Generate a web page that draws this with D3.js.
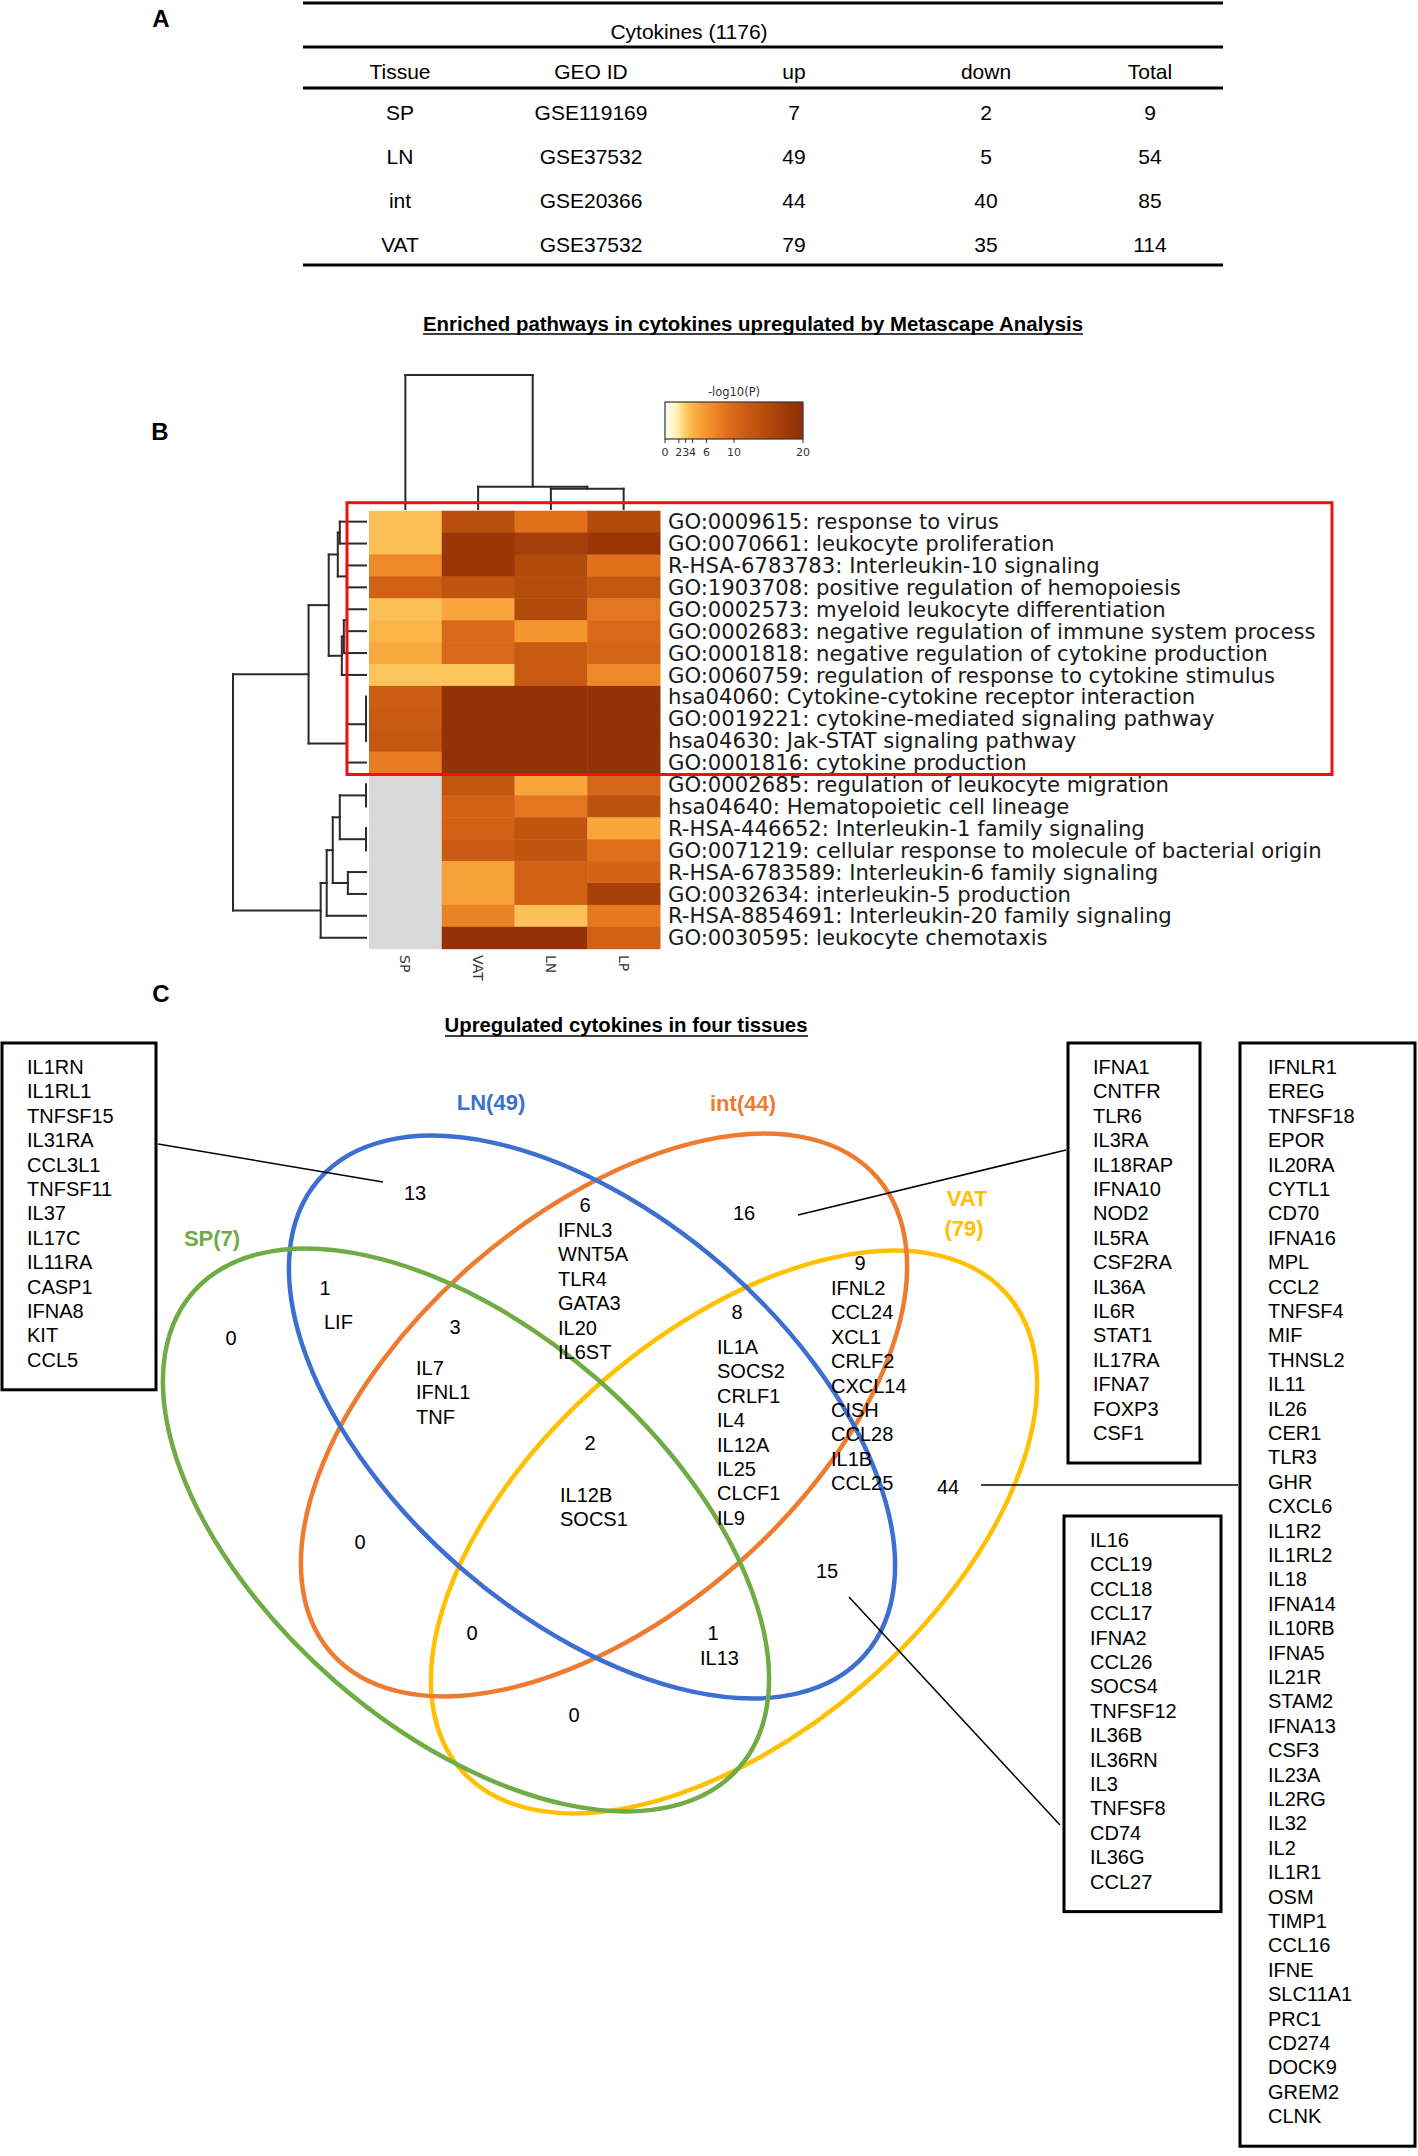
<!DOCTYPE html>
<html><head><meta charset="utf-8">
<script src="https://cdn.jsdelivr.net/npm/d3@7"></script>
<style>body{margin:0;background:#fff} svg{display:block}</style>
</head><body>
<script>
// ================= DATA =================
// Panel A table
const tableTitle = "Cytokines (1176)";
const tableHeader = ["Tissue", "GEO ID", "up", "down", "Total"];
const tissues = ["SP", "LN", "int", "VAT"];
const geoIds = ["GSE119169", "GSE37532", "GSE20366", "GSE37532"];
const upCounts = [7, 49, 44, 79];
const downCounts = [2, 5, 40, 35];
const totalCounts = [9, 54, 85, 114];

// Panel B heatmap (-log10 P)
const heatTitle = "Enriched pathways in cytokines upregulated by Metascape Analysis";
const terms = [
  "GO:0009615: response to virus",
  "GO:0070661: leukocyte proliferation",
  "R-HSA-6783783: Interleukin-10 signaling",
  "GO:1903708: positive regulation of hemopoiesis",
  "GO:0002573: myeloid leukocyte differentiation",
  "GO:0002683: negative regulation of immune system process",
  "GO:0001818: negative regulation of cytokine production",
  "GO:0060759: regulation of response to cytokine stimulus",
  "hsa04060: Cytokine-cytokine receptor interaction",
  "GO:0019221: cytokine-mediated signaling pathway",
  "hsa04630: Jak-STAT signaling pathway",
  "GO:0001816: cytokine production",
  "GO:0002685: regulation of leukocyte migration",
  "hsa04640: Hematopoietic cell lineage",
  "R-HSA-446652: Interleukin-1 family signaling",
  "GO:0071219: cellular response to molecule of bacterial origin",
  "R-HSA-6783589: Interleukin-6 family signaling",
  "GO:0032634: interleukin-5 production",
  "R-HSA-8854691: Interleukin-20 family signaling",
  "GO:0030595: leukocyte chemotaxis"
];
const heatCols = ["SP", "VAT", "LN", "LP"];
const spVals  = [3.5, 3.5, 7, 11, 3.5, 4, 4.8, 3.3, 11.5, 12, 12.5, 8, null, null, null, null, null, null, null, null];
const vatVals = [14, 18, 18, 13, 5, 10, 10, 3.3, 19.5, 19.5, 19.5, 19.5, 12.8, 11, 11, 11.8, 5.3, 5.3, 7.5, 19.5];
const lnVals  = [9, 16.8, 15, 14.5, 15, 6, 12, 12, 19.5, 19.5, 19.5, 19.5, 5, 8.5, 13, 13, 11, 11, 3.4, 19.5];
const lpVals  = [15, 18.5, 9, 12.5, 8.5, 10, 10.5, 7, 19.5, 19.5, 19.5, 19.5, 10.3, 13.5, 5, 9, 10.7, 16.5, 8.3, 11];
const legendTicks = [0, 2, 3, 4, 6, 10, 20];
const colorStopValues = [0, 1.5, 3, 4, 6, 9, 12, 15, 18, 20];
const colorStopColors = ["#fffdf4", "#fff3bd", "#fdcb65", "#fbb547", "#f49530", "#e0701c", "#c85a12", "#b24a0b", "#9c3608", "#8e3005"];
// linkage: [childA, childB, height]; leaves are rows 0..19, new clusters numbered from 20
const rowLinkage = [
  [0, 1, 26], [2, 3, 19], [20, 21, 28], [4, 5, 19], [23, 6, 22], [24, 7, 24], [22, 25, 37],
  [8, 9, 0], [27, 10, 0], [28, 11, 19], [26, 29, 57],
  [12, 13, 0], [14, 15, 0], [31, 32, 26], [16, 17, 18], [33, 34, 33], [35, 18, 39], [36, 19, 45],
  [30, 37, 132]
];
const colLinkage = [[2, 3, 20], [1, 4, 22], [0, 5, 132]];

// Panel C Venn
const vennTitle = "Upregulated cytokines in four tissues";
const setNames = ["SP", "LN", "int", "VAT"];
const setSizes = [7, 49, 44, 79];
const regionKeys = ["SP", "LN", "int", "VAT", "SP&LN", "SP&int", "SP&VAT", "LN&int", "LN&VAT", "int&VAT",
  "SP&LN&int", "SP&LN&VAT", "SP&int&VAT", "LN&int&VAT", "SP&LN&int&VAT"];
const regionCounts = [0, 13, 16, 44, 1, 0, 0, 6, 15, 9, 3, 1, 0, 8, 2];
const regionGenes = [[], [], [], [], ["LIF"], [], [],
  ["IFNL3", "WNT5A", "TLR4", "GATA3", "IL20", "IL6ST"], [],
  ["IFNL2", "CCL24", "XCL1", "CRLF2", "CXCL14", "CISH", "CCL28", "IL1B", "CCL25"],
  ["IL7", "IFNL1", "TNF"], ["IL13"], [],
  ["IL1A", "SOCS2", "CRLF1", "IL4", "IL12A", "IL25", "CLCF1", "IL9"],
  ["IL12B", "SOCS1"]];
const lnOnlyGenes = ["IL1RN", "IL1RL1", "TNFSF15", "IL31RA", "CCL3L1", "TNFSF11", "IL37", "IL17C", "IL11RA", "CASP1", "IFNA8", "KIT", "CCL5"];
const intOnlyGenes = ["IFNA1", "CNTFR", "TLR6", "IL3RA", "IL18RAP", "IFNA10", "NOD2", "IL5RA", "CSF2RA", "IL36A", "IL6R", "STAT1", "IL17RA", "IFNA7", "FOXP3", "CSF1"];
const vatOnlyGenes = ["IFNLR1", "EREG", "TNFSF18", "EPOR", "IL20RA", "CYTL1", "CD70", "IFNA16", "MPL", "CCL2", "TNFSF4", "MIF", "THNSL2", "IL11", "IL26", "CER1", "TLR3", "GHR", "CXCL6", "IL1R2", "IL1RL2", "IL18", "IFNA14", "IL10RB", "IFNA5", "IL21R", "STAM2", "IFNA13", "CSF3", "IL23A", "IL2RG", "IL32", "IL2", "IL1R1", "OSM", "TIMP1", "CCL16", "IFNE", "SLC11A1", "PRC1", "CD274", "DOCK9", "GREM2", "CLNK"];
const lnVatGenes = ["IL16", "CCL19", "CCL18", "CCL17", "IFNA2", "CCL26", "SOCS4", "TNFSF12", "IL36B", "IL36RN", "IL3", "TNFSF8", "CD74", "IL36G", "CCL27"];

// ================= LAYOUT / STYLE =================
const W = 1418, H = 2156;
const SANS = "'Liberation Sans', Arial, Helvetica, sans-serif";
const DJ = "'DejaVu Sans', Verdana, sans-serif";
const setColors = ["#6fac46", "#3d6fd1", "#ee7b30", "#ffc000"];

const svg = d3.select("body").append("svg").attr("width", W).attr("height", H).attr("viewBox", `0 0 ${W} ${H}`);
svg.append("rect").attr("width", W).attr("height", H).attr("fill", "#fff");

function txt(g, t, x, y, o = {}) {
  const e = g.append("text").attr("x", x).attr("y", y).attr("dy", o.dy || "0.35em")
    .attr("font-family", o.ff || SANS).attr("font-size", o.fs || 20)
    .attr("text-anchor", o.anchor || "middle").attr("fill", o.fill || "#000").text(t);
  if (o.bold) e.attr("font-weight", "bold");
  if (o.len) e.attr("textLength", o.len).attr("lengthAdjust", "spacingAndGlyphs");
  return e;
}

// ---------- Panel A ----------
const gA = svg.append("g");
txt(gA, "A", 161, 19, { fs: 24, bold: true });
const tableColX = [400, 591, 794, 986, 1150];
const tableRowY = d3.scaleOrdinal().domain(tissues).range([113, 157, 201, 245]);
const tableLines = [3, 47, 88, 265];
tableLines.forEach(y => gA.append("line").attr("x1", 303).attr("x2", 1223).attr("y1", y).attr("y2", y)
  .attr("stroke", "#000").attr("stroke-width", 3));
txt(gA, tableTitle, 689, 32, { fs: 21 });
tableHeader.forEach((h, i) => txt(gA, h, tableColX[i], 72, { fs: 21 }));
tissues.forEach((t, r) => {
  const vals = [t, geoIds[r], upCounts[r], downCounts[r], totalCounts[r]];
  vals.forEach((v, i) => txt(gA, String(v), tableColX[i], tableRowY(t), { fs: 21 }));
});

// ---------- Panel B ----------
const gB = svg.append("g");
txt(gB, heatTitle, 753, 324, { fs: 20, bold: true, len: 660 });
gB.append("line").attr("x1", 423).attr("x2", 1083).attr("y1", 334).attr("y2", 334).attr("stroke", "#000").attr("stroke-width", 1.6);
txt(gB, "B", 160, 432, { fs: 24, bold: true });

const color = d3.scaleLinear().domain(colorStopValues).range(colorStopColors).interpolate(d3.interpolateRgb).clamp(true);
const hmX0 = 369, colW = 72.75, hmY0 = 510.7, rowH = 21.9;
const xCol = d3.scaleBand().domain(heatCols).range([hmX0, hmX0 + heatCols.length * colW]);
const yRow = d3.scaleBand().domain(terms).range([hmY0, hmY0 + terms.length * rowH]);
const colVals = { SP: spVals, VAT: vatVals, LN: lnVals, LP: lpVals };
const cells = [];
heatCols.forEach(c => terms.forEach((t, i) => cells.push({ c, t, v: colVals[c][i] })));
gB.append("g").selectAll("rect").data(cells).join("rect")
  .attr("x", d => xCol(d.c)).attr("y", d => yRow(d.t))
  .attr("width", xCol.bandwidth() + 0.5).attr("height", yRow.bandwidth() + 0.5)
  .attr("fill", d => d.v == null ? "#d9d9d9" : color(d.v));

// row labels
gB.append("g").selectAll("text").data(terms).join("text")
  .attr("x", hmX0 + heatCols.length * colW + 8).attr("y", d => yRow(d) + rowH / 2).attr("dy", "0.36em")
  .attr("font-family", DJ).attr("font-size", 21.2).attr("fill", "#1a1a1a").text(d => d);
// column labels (rotated)
gB.append("g").selectAll("text").data(heatCols).join("text")
  .attr("transform", d => `translate(${xCol(d) + colW / 2},955) rotate(90)`).attr("dy", "0.35em")
  .attr("font-family", DJ).attr("font-size", 14).attr("fill", "#333").text(d => d);

// dendrograms
function dendroSegs(leafPos, linkage) {
  const pos = leafPos.slice(), hgt = leafPos.map(() => 0), segs = [];
  linkage.forEach(([a, b, h]) => {
    segs.push([pos[a], hgt[a], pos[a], h]);
    segs.push([pos[b], hgt[b], pos[b], h]);
    segs.push([pos[a], h, pos[b], h]);
    pos.push((pos[a] + pos[b]) / 2); hgt.push(h);
  });
  return segs;
}
const rowH2x = d3.scaleLinear().domain([0, 132]).range([366, 233]);
const rowSegs = dendroSegs(terms.map(t => yRow(t) + rowH / 2), rowLinkage);
gB.append("g").selectAll("line").data(rowSegs).join("line")
  .attr("x1", d => rowH2x(d[1])).attr("y1", d => d[0]).attr("x2", d => rowH2x(d[3])).attr("y2", d => d[2])
  .attr("stroke", "#2b2b2b").attr("stroke-width", 2).attr("stroke-linecap", "square");
const colH2y = d3.scaleLinear().domain([0, 132]).range([509, 375]);
const colSegs = dendroSegs(heatCols.map(c => xCol(c) + colW / 2), colLinkage);
gB.append("g").selectAll("line").data(colSegs).join("line")
  .attr("x1", d => d[0]).attr("y1", d => colH2y(d[1])).attr("x2", d => d[2]).attr("y2", d => colH2y(d[3]))
  .attr("stroke", "#2b2b2b").attr("stroke-width", 2).attr("stroke-linecap", "square");

// legend
const lgX = d3.scaleLinear().domain([0, 20]).range([665, 803]);
const defs = svg.append("defs");
const grad = defs.append("linearGradient").attr("id", "lg").attr("x1", "0%").attr("x2", "100%");
colorStopValues.forEach((v, i) => grad.append("stop").attr("offset", (v / 20 * 100) + "%").attr("stop-color", colorStopColors[i]));
gB.append("rect").attr("x", lgX(0)).attr("y", 402).attr("width", lgX(20) - lgX(0)).attr("height", 37)
  .attr("fill", "url(#lg)").attr("stroke", "#333").attr("stroke-width", 1.2);
txt(gB, "-log10(P)", 734, 392, { ff: DJ, fs: 11.5, fill: "#333" });
legendTicks.forEach(t => {
  gB.append("line").attr("x1", lgX(t)).attr("x2", lgX(t)).attr("y1", 439).attr("y2", 443).attr("stroke", "#333").attr("stroke-width", 1);
  txt(gB, String(t), lgX(t), 452, { ff: DJ, fs: 11, fill: "#333" });
});

// red highlight box around first 12 terms
const boxTop = yRow(terms[0]) - 8, boxBot = yRow(terms[11]) + rowH + 1;
gB.append("rect").attr("x", 347).attr("y", boxTop).attr("width", 985).attr("height", boxBot - boxTop)
  .attr("fill", "none").attr("stroke", "#f01010").attr("stroke-width", 3);

// ---------- Panel C ----------
const gC = svg.append("g");
txt(gC, "C", 161, 994, { fs: 24, bold: true });
txt(gC, vennTitle, 626, 1025, { fs: 20, bold: true, len: 363 });
gC.append("line").attr("x1", 445).attr("x2", 808).attr("y1", 1036).attr("y2", 1036).attr("stroke", "#000").attr("stroke-width", 1.6);

const ellipseLayout = [
  { cx: 466, cy: 1530, rot: 41 },   // SP
  { cx: 592, cy: 1417, rot: 41 },   // LN
  { cx: 604, cy: 1415, rot: -41 },  // int
  { cx: 734, cy: 1532, rot: -41 }   // VAT
];
const drawOrder = [3, 2, 1, 0];
drawOrder.forEach(i => {
  const e = ellipseLayout[i];
  gC.append("ellipse").attr("cx", e.cx).attr("cy", e.cy).attr("rx", 362).attr("ry", 200)
    .attr("transform", `rotate(${e.rot} ${e.cx} ${e.cy})`)
    .attr("fill", "none").attr("stroke", setColors[i]).attr("stroke-width", 4.5);
});
// set labels
const setLabelPos = [[212, 1238], [491, 1102], [743, 1103], [967, 1198]];
setNames.forEach((s, i) => {
  if (s === "VAT") {
    txt(gC, s, setLabelPos[i][0], setLabelPos[i][1], { fs: 22, bold: true, fill: setColors[i] });
    txt(gC, `(${setSizes[i]})`, setLabelPos[i][0] - 3, setLabelPos[i][1] + 30, { fs: 22, bold: true, fill: setColors[i] });
  } else {
    txt(gC, `${s}(${setSizes[i]})`, setLabelPos[i][0], setLabelPos[i][1], { fs: 22, bold: true, fill: setColors[i] });
  }
});
// region counts + gene lists
const regionLayout = {
  "SP": [231, 1338], "LN": [415, 1193], "int": [744, 1213], "VAT": [948, 1487],
  "SP&LN": [325, 1288, 324, 1322], "SP&int": [360, 1542], "SP&VAT": [574, 1715],
  "LN&int": [585, 1205, 558, 1230], "LN&VAT": [827, 1571], "int&VAT": [860, 1263, 831, 1288],
  "SP&LN&int": [455, 1327, 416, 1368], "SP&LN&VAT": [713, 1633, 700, 1658], "SP&int&VAT": [472, 1633],
  "LN&int&VAT": [737, 1312, 717, 1347], "SP&LN&int&VAT": [590, 1443, 560, 1495]
};
const LS = 24.4;
regionKeys.forEach((k, i) => {
  const p = regionLayout[k];
  txt(gC, String(regionCounts[i]), p[0], p[1], { fs: 20 });
  regionGenes[i].forEach((g, j) => txt(gC, g, p[2], p[3] + j * LS, { fs: 20, anchor: "start" }));
});
// boxes with gene lists
const boxes = [
  { genes: lnOnlyGenes, x: 2, y: 1043, w: 154, tx: 27 },
  { genes: intOnlyGenes, x: 1068, y: 1043, w: 132, tx: 1093 },
  { genes: vatOnlyGenes, x: 1240, y: 1043, w: 175, tx: 1268 },
  { genes: lnVatGenes, x: 1064, y: 1516, w: 157, tx: 1090 }
];
boxes.forEach(b => {
  const h = 24 + (b.genes.length - 1) * LS + 30;
  gC.append("rect").attr("x", b.x).attr("y", b.y).attr("width", b.w).attr("height", h)
    .attr("fill", "none").attr("stroke", "#000").attr("stroke-width", 3);
  b.genes.forEach((g, j) => txt(gC, g, b.tx, b.y + 24 + j * LS, { fs: 20, anchor: "start" }));
});
// leader lines
const leaders = [[158, 1144, 383, 1182], [798, 1215, 1066, 1150], [981, 1485, 1238, 1485], [849, 1597, 1060, 1825]];
leaders.forEach(l => gC.append("line").attr("x1", l[0]).attr("y1", l[1]).attr("x2", l[2]).attr("y2", l[3])
  .attr("stroke", "#000").attr("stroke-width", 1.5));
</script>
</body></html>
